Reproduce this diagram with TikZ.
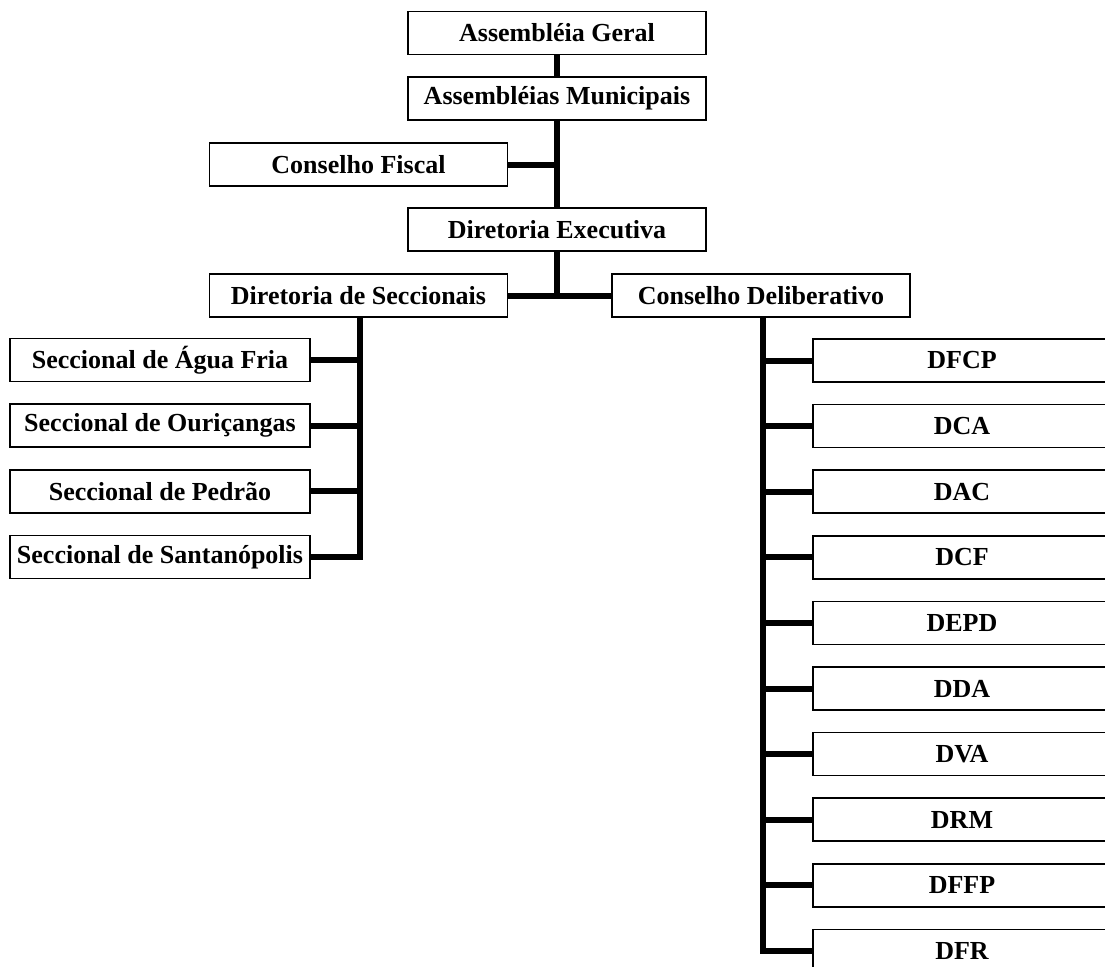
\documentclass[tikz,border=0pt]{standalone}
\usepackage{fontspec}
\setmainfont{Liberation Serif}
\begin{document}
\begin{tikzpicture}[x=1pt,y=-1pt,
  box/.style={draw=black,line width=1.6pt,fill=white,minimum width=298pt,minimum height=43pt,
    inner sep=0pt,outer sep=0pt,font=\fontsize{26}{30}\selectfont\bfseries},
  conn/.style={line width=6pt,black}]
\useasboundingbox (0,0) rectangle (1105,966);
\clip (0,0) rectangle (1105,966);
% top column
\node[box] (ag) at (557,33) {Assembléia Geral};
\node[box] (am) at (557,98.5) {Assembléias Municipais};
\node[box] (cf) at (358.5,164.5) {Conselho Fiscal};
\node[box] (de) at (557,229.5) {Diretoria Executiva};
\node[box] (ds) at (358.5,295.5) {Diretoria de Seccionais};
\node[box] (cd) at (761,295.5) {Conselho Deliberativo};
% seccionais
\node[box,minimum width=300pt] (s1) at (160,360) {Seccional de Água Fria};
\node[box,minimum width=300pt] (s2) at (160,425.6) {Seccional de Ouriçangas};
\node[box,minimum width=300pt] (s3) at (160,491.2) {Seccional de Pedrão};
\node[box,minimum width=300pt] (s4) at (160,556.8) {Seccional de Santanópolis};
% departments
\foreach \n/\t [count=\k from 0] in {r1/DFCP,r2/DCA,r3/DAC,r4/DCF,r5/DEPD,r6/DDA,r7/DVA,r8/DRM,r9/DFFP,r10/DFR}
  \node[box] (\n) at (962,{360.5+65.6*\k}) {\t};
% trunk top points
\coordinate (lt) at ([xshift=1.5pt]ds.south);
\coordinate (rt) at ([xshift=2pt]cd.south);
% connectors
\draw[conn] (ag.south) -- (am.north);
\draw[conn] (am.south) -- (de.north);
\draw[conn] (cf.east) -- (cf.east -| am.south);
\draw[conn] (de.south) -- (de.south |- ds.east);
\draw[conn] (ds.east) -- (cd.west);
\draw[conn] (lt) |- (s4.east);
\foreach \n in {s1,s2,s3}
  \draw[conn] (\n.east) -- (\n.east -| lt);
\draw[conn] (rt) |- (r10.west);
\foreach \n in {r1,r2,r3,r4,r5,r6,r7,r8,r9}
  \draw[conn] (\n.west) -- (\n.west -| rt);
\end{tikzpicture}
\end{document}
